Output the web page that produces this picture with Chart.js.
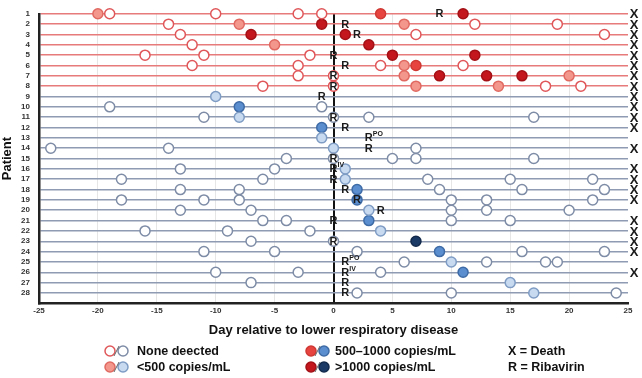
<!DOCTYPE html>
<html><head><meta charset="utf-8">
<script src="https://cdn.jsdelivr.net/npm/chart.js@4"></script>
<style>html,body{margin:0;padding:0;background:#fff}#wrap{width:642px;height:378px;position:relative}</style>
</head><body><div id="wrap"><canvas id="c" width="642" height="378"></canvas></div>
<script>
// ---- data (patient number, day relative to lower respiratory disease) ----
const patients = Array.from({length: 28}, (_, i) => i + 1);
const xTickValues = [-25, -20, -15, -10, -5, 0, 5, 10, 15, 20, 25];

// Patients 1-8 (red), none detected
const redNone = [[1,-19],[1,-10],[1,-3],[1,-1],[2,-14],[2,12],[2,19],[3,-13],[3,7],[3,23],[4,-12],
  [5,-16],[5,-11],[5,-2],[6,-12],[6,-3],[6,4],[6,11],[7,-3],[7,0],[8,-6],[8,0],[8,18],[8,21]];
const redLow = [[1,-20],[2,-8],[2,6],[4,-5],[6,6],[7,6],[7,20],[8,7],[8,14]];
const redMid = [[1,4],[6,7]];
const redHigh = [[1,11],[2,-1],[3,-7],[3,1],[4,3],[5,5],[5,12],[7,9],[7,13],[7,16]];

// Patients 9-28 (blue)
const blueNone = [[10,-19],[10,-1],[11,-11],[11,0],[11,3],[11,17],[14,-24],[14,-14],[14,7],
  [15,-4],[15,0],[15,5],[15,7],[15,17],[16,-13],[16,-5],[17,-18],[17,-6],[17,8],[17,15],[17,22],
  [18,-13],[18,-8],[18,9],[18,16],[18,23],[19,-18],[19,-11],[19,-8],[19,10],[19,13],[19,22],
  [20,-13],[20,-7],[20,10],[20,13],[20,20],[21,-6],[21,-4],[21,10],[21,15],[22,-16],[22,-9],[22,-2],
  [23,-7],[23,0],[24,-11],[24,-5],[24,2],[24,16],[24,23],[25,6],[25,13],[25,18],[25,19],
  [26,-10],[26,-3],[26,4],[27,-7],[28,2],[28,10],[28,24]];
const blueLow = [[9,-10],[11,-8],[13,-1],[14,0],[16,1],[17,1],[20,3],[22,4],[25,10],[27,15],[28,17]];
const blueMid = [[10,-8],[12,-1],[18,2],[19,2],[21,3],[24,9],[26,11]];
const blueHigh = [[23,7]];

// Ribavirin start: [patient, day, route]
const ribavirin = [[1,9,''],[2,1,''],[3,2,''],[5,0,''],[6,1,''],[7,0,''],[8,0,''],[9,-1,''],[11,0,''],
  [12,1,''],[13,3,'PO'],[14,3,''],[15,0,''],[16,0,'IV'],[17,0,''],[18,1,''],[19,2,''],[20,4,''],
  [21,0,''],[23,0,''],[25,1,'PO'],[26,1,'IV'],[27,1,''],[28,1,'']];
const deaths = [1,2,3,4,5,6,7,8,9,10,11,12,14,16,17,18,19,21,22,23,24,26];

const legendLabels = ['None deected', '<500 copies/mL', '500\u20131000 copies/mL', '>1000 copies/mL'];
const keyLabels = ['X = Death', 'R = Ribavirin'];

// ---- styles ----
const C = {
  redLine: '#e77b7b', blueLine: '#8e9bb2',
  red: [['#ffffff','#e0575a'],['#f3968c','#e06a62'],['#e8443f','#cf3833'],['#c3161d','#a31116']],
  blue: [['#ffffff','#7e8ca6'],['#c7daf0','#7f9cc4'],['#5b8ecf','#3e6ba6'],['#1b3a66','#132a4c']]
};
const FONT = '"Liberation Sans", Arial, sans-serif';

function ds(arr, style) {
  return {
    data: arr.map(([p, d]) => ({x: d, y: p})),
    backgroundColor: style[0], borderColor: style[1], borderWidth: 1.5,
    pointRadius: 5, pointHoverRadius: 5, showLine: false, clip: false
  };
}

const overlay = {
  id: 'overlay',
  afterDatasetsDraw(chart) {
    const {ctx, scales: {x, y}, chartArea} = chart;
    ctx.save();
    ctx.fillStyle = '#1a1a1a';
    ctx.textBaseline = 'middle';
    ribavirin.forEach(([p, d, route]) => {
      const px = x.getPixelForValue(d), py = y.getPixelForValue(p);
      ctx.font = 'bold 11px ' + FONT;
      ctx.textAlign = 'center';
      ctx.fillText('R', px, py + 0.5);
      if (route) {
        ctx.font = 'bold 7px ' + FONT;
        ctx.textAlign = 'left';
        ctx.fillText(route, px + 4, py - 3.5);
      }
    });
    ctx.font = 'bold 13px ' + FONT;
    ctx.textAlign = 'center';
    deaths.forEach(p => ctx.fillText('X', chartArea.right + 6, y.getPixelForValue(p) + 1));
    ctx.restore();
  },
  afterDraw(chart) {
    const ctx = chart.ctx;
    ctx.save();
    const rows = [351, 367];
    const circle = (cx, cy, st) => {
      ctx.beginPath(); ctx.arc(cx, cy, 5, 0, Math.PI * 2);
      ctx.fillStyle = st[0]; ctx.fill();
      ctx.lineWidth = 1.5; ctx.strokeStyle = st[1]; ctx.stroke();
    };
    const cols = [{ix: 110, tx: 137}, {ix: 311, tx: 335}];
    legendLabels.forEach((lab, i) => {
      const col = cols[Math.floor(i / 2)], cy = rows[i % 2];
      circle(col.ix, cy, C.red[i]);
      circle(col.ix + 13, cy, C.blue[i]);
      ctx.strokeStyle = '#666'; ctx.lineWidth = 1;
      ctx.beginPath(); ctx.moveTo(col.ix + 4, cy + 5); ctx.lineTo(col.ix + 9, cy - 5); ctx.stroke();
      ctx.fillStyle = '#111';
      ctx.font = 'bold 12.5px ' + FONT;
      ctx.textAlign = 'left'; ctx.textBaseline = 'middle';
      ctx.fillText(lab, col.tx, cy + 1);
    });
    keyLabels.forEach((lab, i) => {
      ctx.fillStyle = '#111';
      ctx.font = 'bold 12.5px ' + FONT;
      ctx.textAlign = 'left'; ctx.textBaseline = 'middle';
      ctx.fillText(lab, 508, rows[i] + 1);
    });
    ctx.restore();
  }
};

new Chart(document.getElementById('c'), {
  type: 'scatter',
  data: {
    datasets: [
      ds(redNone, C.red[0]), ds(blueNone, C.blue[0]),
      ds(redLow, C.red[1]), ds(blueLow, C.blue[1]),
      ds(redMid, C.red[2]), ds(blueMid, C.blue[2]),
      ds(redHigh, C.red[3]), ds(blueHigh, C.blue[3])
    ]
  },
  options: {
    responsive: false, animation: false,
    layout: {padding: {top: 6.7, right: 14, bottom: 0, left: 0}},
    plugins: {legend: {display: false}, tooltip: {enabled: false}},
    scales: {
      x: {
        type: 'linear', min: -25, max: 25,
        afterBuildTicks: s => { s.ticks = xTickValues.map(v => ({value: v})); },
        afterFit: s => { s.height = 378 - 303.3; },
        ticks: {font: {family: FONT, size: 8, weight: 'bold'}, color: '#333', padding: 3, autoSkip: false, maxRotation: 0},
        grid: {
          drawTicks: false,
          color: c => c.tick && c.tick.value === 0 ? '#111' : (c.tick && Math.abs(c.tick.value) === 25 ? 'rgba(0,0,0,0)' : '#e6e6e6'),
          lineWidth: c => c.tick && c.tick.value === 0 ? 2 : 1
        },
        border: {display: true, color: '#222', width: 2.5},
        title: {display: true, text: 'Day relative to lower respiratory disease',
          font: {family: FONT, size: 13, weight: 'bold'}, color: '#111', padding: {top: 0, bottom: 40}}
      },
      y: {
        type: 'linear', min: 1, max: 29, reverse: true,
        afterBuildTicks: s => { s.ticks = patients.map(v => ({value: v})); },
        afterFit: s => { s.width = 39; },
        ticks: {font: {family: FONT, size: 8, weight: 'bold'}, color: '#333', padding: 9, autoSkip: false},
        grid: {
          drawTicks: false,
          color: c => c.tick && c.tick.value <= 8 ? C.redLine : C.blueLine,
          lineWidth: 1.5
        },
        border: {display: true, color: '#222', width: 2.5},
        title: {display: true, text: 'Patient', font: {family: FONT, size: 13, weight: 'bold'}, color: '#111', padding: {top: 0, bottom: 0}}
      }
    }
  },
  plugins: [overlay]
});
</script></body></html>
